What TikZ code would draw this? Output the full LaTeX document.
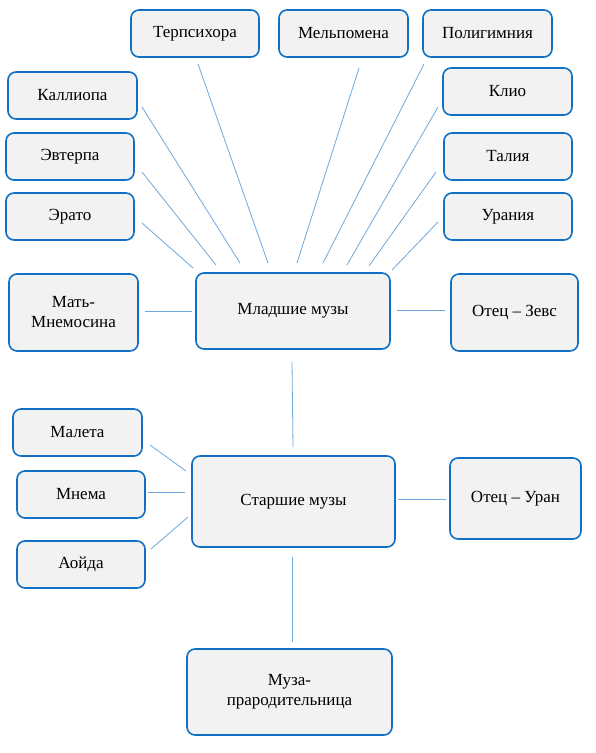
\documentclass[tikz,border=0pt]{standalone}
\usepackage{fontspec}
\setmainfont{Liberation Serif}
\definecolor{bordblue}{HTML}{1170C4}
\definecolor{lineblue}{HTML}{6FA8DC}
\definecolor{boxfill}{HTML}{F2F2F2}
\tikzset{
  musebox/.style={draw=bordblue, line width=1.6pt, fill=boxfill, rounded corners=8pt,
    align=center, inner sep=2pt, font=\fontsize{17}{20}\selectfont},
  link/.style={draw=lineblue, line width=0.8pt}
}
\begin{document}
\begin{tikzpicture}[x=1pt,y=-1pt]
\useasboundingbox (0,0) rectangle (595,753);
\fill[white] (0,0) rectangle (595,753);
% boxes
\node[musebox, minimum width=128pt, minimum height=47pt] (terp) at (195,33.5) {Терпсихора};
\node[musebox, minimum width=129pt, minimum height=47pt] (melp) at (343.5,33.5) {Мельпомена};
\node[musebox, minimum width=129pt, minimum height=47pt] (poli) at (487.5,33.5) {Полигимния};
\node[musebox, minimum width=129pt, minimum height=47pt] (kall) at (72.5,95.5) {Каллиопа};
\node[musebox, minimum width=128pt, minimum height=47pt] (evt) at (70,156.5) {Эвтерпа};
\node[musebox, minimum width=128pt, minimum height=47pt] (erato) at (70,216.5) {Эрато};
\node[musebox, minimum width=129pt, minimum height=47pt] (klio) at (507.5,91.5) {Клио};
\node[musebox, minimum width=128pt, minimum height=47pt] (talia) at (508,156.5) {Талия};
\node[musebox, minimum width=128pt, minimum height=47pt] (urania) at (508,216.5) {Урания};
\node[musebox, minimum width=129pt, minimum height=77pt] (mnemos) at (73.5,312.5) {Мать-\\Мнемосина};
\node[musebox, minimum width=194pt, minimum height=76pt] (mlad) at (293,311) {Младшие музы};
\node[musebox, minimum width=127pt, minimum height=77pt] (zeus) at (514.5,312.5) {Отец – Зевс};
\node[musebox, minimum width=129pt, minimum height=47pt] (maleta) at (77.5,432.5) {Малета};
\node[musebox, minimum width=128pt, minimum height=47pt] (mnema) at (81,494.5) {Мнема};
\node[musebox, minimum width=128pt, minimum height=47pt] (aoida) at (81,564.5) {Аойда};
\node[musebox, minimum width=203pt, minimum height=91pt] (star) at (293.5,501.5) {Старшие музы};
\node[musebox, minimum width=131pt, minimum height=81pt] (uran) at (515.5,498.5) {Отец – Уран};
\node[musebox, minimum width=205pt, minimum height=86pt] (praro) at (289.5,692) {Муза-\\прародительница};
% connector end points
\coordinate (eratoA) at (142,223); \coordinate (eratoB) at (193,268);
\coordinate (evtA) at (142,172);   \coordinate (evtB) at (216,265);
\coordinate (kallA) at (142,107);  \coordinate (kallB) at (240,263);
\coordinate (terpA) at (198,64);   \coordinate (terpB) at (268,263);
\coordinate (melpA) at (359,68);   \coordinate (melpB) at (297,263);
\coordinate (poliA) at (424,64);   \coordinate (poliB) at (323,263);
\coordinate (klioA) at (438,107);  \coordinate (klioB) at (347,265);
\coordinate (taliaA) at (436,172); \coordinate (taliaB) at (369,266);
\coordinate (uraniaA) at (438,222);\coordinate (uraniaB) at (392,270);
\coordinate (mnemosA) at (145,311);\coordinate (mnemosB) at (192,311);
\coordinate (zeusA) at (445,310);  \coordinate (zeusB) at (397,310);
\coordinate (mladS) at (292,362);  \coordinate (starN) at (293,447);
\coordinate (maletaA) at (150,445);\coordinate (maletaB) at (186,471);
\coordinate (mnemaA) at (148,492); \coordinate (mnemaB) at (185,492);
\coordinate (aoidaA) at (151,549); \coordinate (aoidaB) at (188,517);
\coordinate (uranA) at (446,499);  \coordinate (uranB) at (398,499);
\coordinate (starS) at (292,557);  \coordinate (praroN) at (292,642);
% connectors
\foreach \n in {erato,evt,kall,terp,melp,poli,klio,talia,urania,mnemos,zeus,maleta,mnema,aoida,uran}
  \draw[link] (\n A) -- (\n B);
\draw[link] (mladS) -- (starN);
\draw[link] (starS) -- (praroN);
\end{tikzpicture}
\end{document}
